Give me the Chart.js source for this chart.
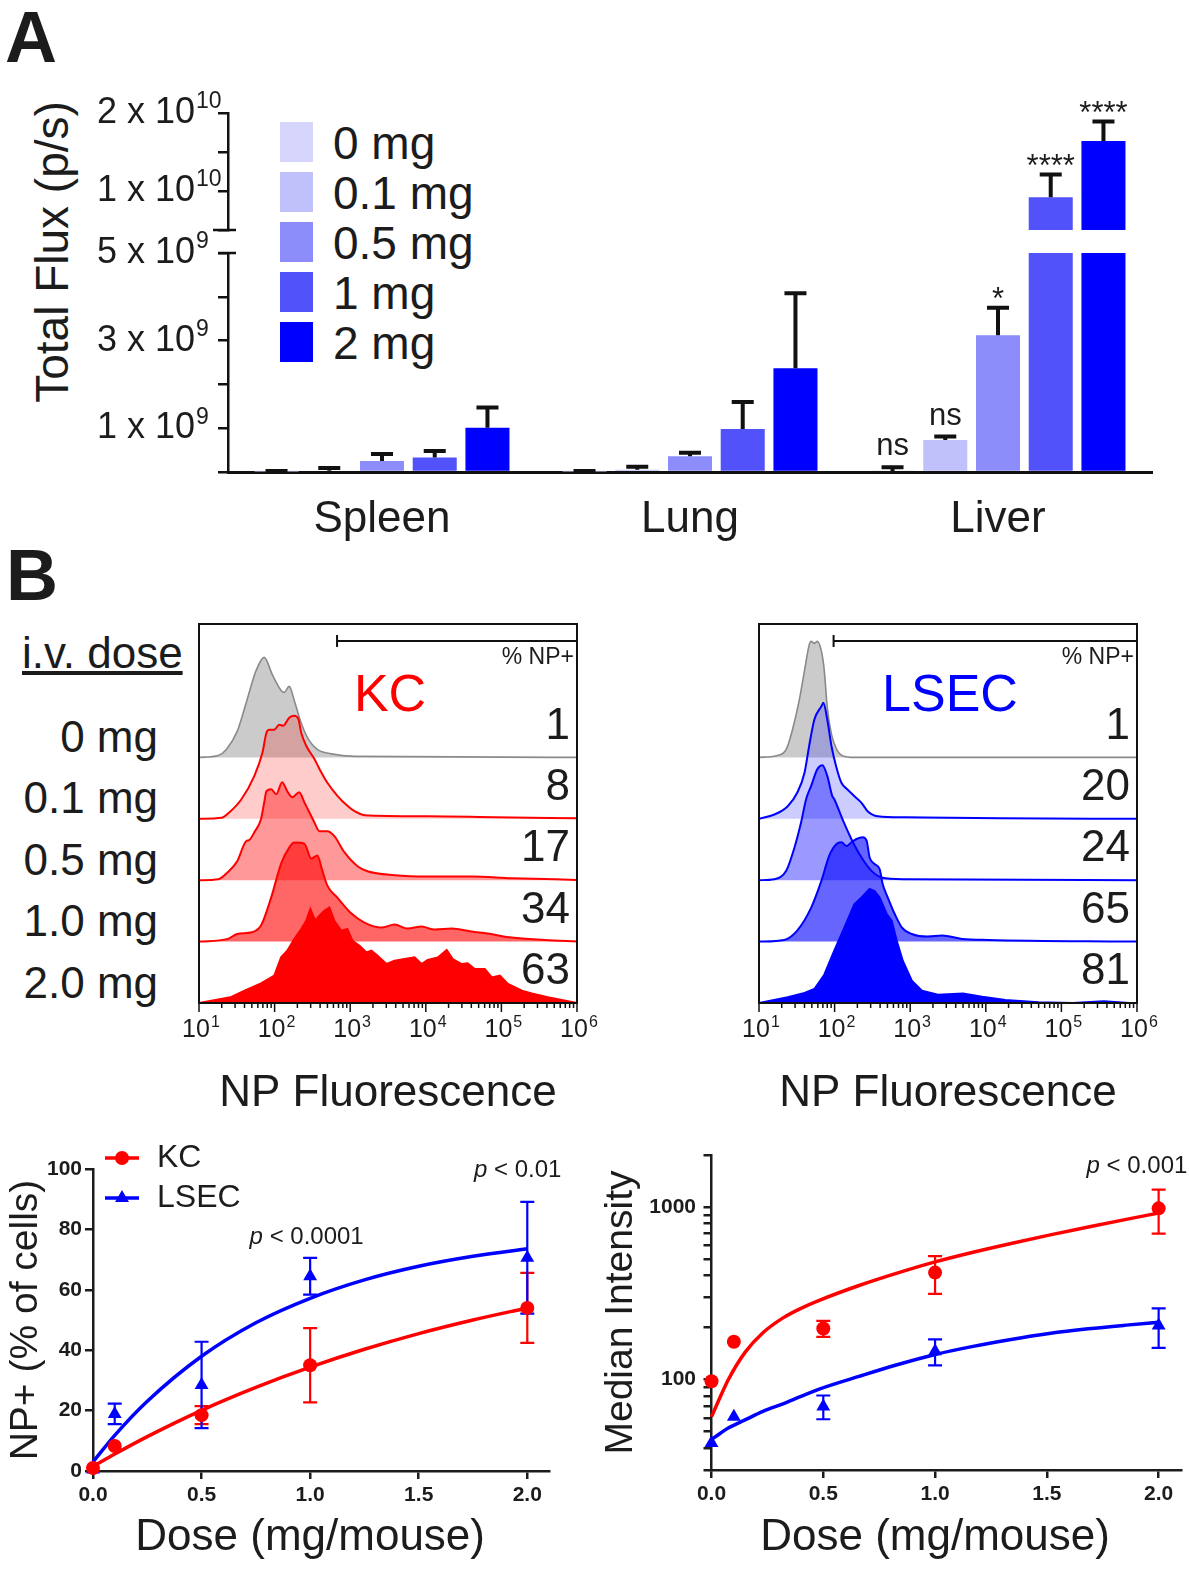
<!DOCTYPE html>
<html lang="en">
<head>
<meta charset="utf-8">
<title>NP biodistribution</title>
<script src="https://cdn.jsdelivr.net/npm/chart.js@4.4.1/dist/chart.umd.min.js"></script>
<style>
  body { margin: 0; background: #fff; }
  #fig { position: relative; width: 1189px; height: 1570px; overflow: hidden;
         font-family: 'Liberation Sans', Arial, sans-serif; color: #1c1c1c; }
  #fig canvas { position: absolute; }
  .t { position: absolute; white-space: nowrap; line-height: 1; }
</style>
</head>
<body>
<div id="fig">
  <div class="t" style="left:5px; top:1px; font-size:72px; font-weight:bold;">A</div>
  <div class="t" style="left:6px; top:539px; font-size:72px; font-weight:bold;">B</div>
  <div class="t" style="left:52px; top:252px; font-size:46px; transform:translate(-50%,-50%) rotate(-90deg);">Total Flux (p/s)</div>
  <div id="legendA"></div>
  <div class="t" style="left:22px; top:631px; font-size:44px; text-decoration:underline;">i.v. dose</div>
  <div id="doseLabels"></div>

  <canvas id="fluxTop" width="1189" height="160" style="left:0; top:80px;"></canvas>
  <canvas id="fluxLow" width="1189" height="328" style="left:0; top:222px;"></canvas>
  <canvas id="histKC" width="450" height="530" style="left:150px; top:600px;"></canvas>
  <canvas id="histLSEC" width="450" height="530" style="left:710px; top:600px;"></canvas>
  <canvas id="pctChart" width="590" height="440" style="left:0; top:1130px;"></canvas>
  <canvas id="mfiChart" width="599" height="440" style="left:590px; top:1130px;"></canvas>
</div>

<script>
// ---------- A: total flux per organ (p/s) ----------
const organs = ['Spleen', 'Lung', 'Liver'];
const doseNames = ['0 mg', '0.1 mg', '0.5 mg', '1 mg', '2 mg'];
const flux0  = [0.01e9, 0.01e9, 0.02e9];
const flux01 = [0.03e9, 0.05e9, 0.73e9];
const flux05 = [0.25e9, 0.36e9, 3.12e9];
const flux1  = [0.33e9, 0.98e9, 9.2e9];
const flux2  = [1.01e9, 2.37e9, 16.4e9];
const err0  = [0.01e9, 0.01e9, 0.09e9];
const err01 = [0.06e9, 0.07e9, 0.08e9];
const err05 = [0.16e9, 0.08e9, 0.63e9];
const err1  = [0.15e9, 0.62e9, 2.9e9];
const err2  = [0.46e9, 1.71e9, 2.5e9];
const liverStars = ['ns', 'ns', '*', '****', '****'];
const fluxLabelledLow = [1e9, 3e9, 5e9];
const fluxLabelledHigh = [1e10, 2e10];

// ---------- B: histograms (x = NP fluorescence, h = % of mode) ----------
const doseLabelsB = ['0 mg', '0.1 mg', '0.5 mg', '1.0 mg', '2.0 mg'];
const kcPctPos = [1, 8, 17, 34, 63];
const lsecPctPos = [1, 20, 24, 65, 81];
const kcGate = 670;
const lsecGate = 97;

const kcX0 = [10, 18, 23, 32, 43, 57, 73, 93, 122, 134, 156, 182, 219, 271, 367, 563, 1140, 1e6];
const kcH0 = [0, 2, 8, 26, 57, 87, 100, 83, 67, 65, 71, 57, 37, 20, 8, 3.5, 1, 0];
const kcX1 = [10, 20, 24, 36, 54, 69, 78, 85, 99, 115, 130, 156, 182, 206, 225, 262, 335, 391, 499, 677, 918, 1140, 1540, 10500, 81600, 1e6];
const kcH1 = [0, 1, 5, 19, 43, 66, 86, 89, 89, 94, 93, 101, 103, 100, 86, 73, 60, 50, 36, 23, 13, 7.6, 3.6, 2.6, 1.6, 0.5];
const kcX2 = [10, 18, 24, 32, 42, 46, 54, 66, 73, 78, 90, 105, 126, 147, 171, 212, 247, 288, 335, 391, 499, 617, 837, 1250, 1690, 3860, 10600, 40400, 137000, 1e6];
const kcH2 = [0, 1, 8, 19, 39, 40, 48, 61, 78, 89, 91, 86, 98, 89, 83, 88, 78, 68, 58, 49, 49, 44, 28, 14, 9, 5, 3.7, 3.7, 2, 0.3];
const kcX3 = [10, 24, 32, 50, 66, 90, 122, 156, 182, 247, 306, 367, 428, 499, 677, 1040, 1540, 2590, 3860, 5740, 8790, 13100, 22000, 40400, 66000, 137000, 376000, 1e6];
const kcH3 = [0, 2.7, 7.6, 9.3, 16, 44, 78, 94, 99, 98, 83, 86, 71, 56, 44, 28, 19, 14, 17, 13, 15, 12, 13, 10, 8, 4, 1.6, 0];
const kcX4 = [10, 26, 40, 66, 99, 122, 147, 182, 225, 262, 297, 345, 391, 455, 530, 617, 764, 918, 1070, 1330, 1640, 1910, 2300, 3020, 3860, 5230, 7100, 8790, 10600, 14400, 18900, 22700, 29800, 35800, 44400, 60300, 74600, 95300, 122000, 187000, 253000, 412000, 1e6];
const kcH4 = [0, 5.7, 12.3, 19.6, 27.3, 45.6, 52.3, 64, 74, 82.3, 94, 82.3, 87.3, 92.3, 95.6, 82.3, 72.3, 74, 62.3, 57.3, 50.6, 52.3, 47.3, 39, 42.3, 44, 45.6, 39, 43, 45.6, 53, 44, 39, 39.6, 34, 34, 25.6, 27.3, 19, 12.3, 9.6, 5.7, 0];

const lsecX0 = [10, 17, 23, 27.5, 34, 40, 46, 49, 54, 59, 67, 73, 80, 91, 106, 127, 183, 1e6];
const lsecH0 = [0, 1.7, 8.3, 26.7, 56.7, 86.7, 112, 116, 114, 116, 106, 87, 50, 23, 8.3, 1.7, 0, 0];
const lsecX1 = [10, 16, 24, 32, 40, 46, 54, 67, 71, 80, 91, 106, 123, 148, 183, 227, 273, 371, 850, 15500, 1e6];
const lsecH1 = [0, 4.3, 12.6, 26, 46, 72.6, 99.3, 112.6, 116, 99.3, 72.6, 51, 36, 29.3, 22.6, 16, 7.6, 2.6, 1.5, 0.5, 0];
const lsecX2 = [10, 16, 23, 29, 36, 42, 49, 59, 69, 80, 93, 99, 127, 167, 227, 308, 419, 850, 1e6];
const lsecH2 = [0, 1, 9.7, 31, 57.7, 81, 94.3, 111, 115, 104.3, 84.3, 81, 61, 41, 22.7, 9.3, 2.7, 1, 0];
const lsecX3 = [10, 21.5, 32, 49, 67, 85, 106, 123, 144, 167, 195, 235, 265, 290, 338, 394, 432, 504, 624, 773, 1050, 1710, 2630, 4850, 10800, 1e6];
const lsecH3 = [0, 1.7, 11, 34, 61, 86, 97.6, 99.3, 95.6, 99.3, 102.6, 104.3, 101, 84.3, 77.6, 72.6, 57.6, 44.3, 27.6, 14.3, 7.6, 5, 6, 2.7, 1.7, 0];
const lsecX4 = [10, 24, 40, 54, 73, 99, 135, 183, 227, 290, 338, 394, 489, 569, 663, 797, 1050, 1430, 2330, 5000, 8950, 18100, 49800, 141000, 364000, 783000, 1e6];
const lsecH4 = [0, 5.7, 10, 14, 28.3, 52.3, 75.6, 99, 105.6, 114, 112, 105.6, 89, 82.3, 62.3, 42.3, 22.3, 12.3, 8.3, 9.6, 6.3, 3, 0.7, 0, 1.7, 0, 0];

// ---------- dose response ----------
const doseX = [0, 0.1, 0.5, 1.0, 2.0];
const kcPct = [1, 8.3, 18.5, 35, 54];
const kcPctSd = [0, 0, 3, 12.3, 11.6];
const lsecPct = [0.5, 18.9, 28.5, 64.5, 70.6];
const lsecPctSd = [0, 3.4, 14.3, 6.1, 18.5];
const fitDose = [0, 0.1, 0.25, 0.5, 0.75, 1.0, 1.25, 1.5, 1.75, 2.0];
const kcPctFit = [1.5, 5.6, 11.4, 20.1, 27.7, 34.4, 40.3, 45.5, 50.0, 54.0];
const lsecPctFit = [3, 11.8, 23.1, 38, 49.1, 57.2, 63.3, 67.8, 71.1, 73.6];
const pctNotes = ['0.0001', '0.01'];
const pctNoteAt = [[0.984, 77.5], [1.956, 99.7]];

const kcMfi = [98, 166, 198, 417, 982];
const kcMfiSd = [0, 0, 21, 103, 280];
const lsecMfi = [43, 61, 70, 146, 206];
const lsecMfiSd = [0, 0, 11, 25, 53];
const mfiFitDose = [0, 0.04, 0.075, 0.15, 0.23, 0.32, 0.4, 0.485, 0.66, 0.83, 1.0, 1.17, 1.34, 1.51, 1.685, 1.855, 2.0];
const kcMfiFit = [61, 80, 100, 144, 187, 228, 259, 289, 351, 414, 481, 547, 615, 687, 766, 848, 923];
const lsecMfiFit = [45, 49, 52.5, 58.5, 65.5, 72.5, 80, 88.5, 104.5, 122, 140, 156, 171, 185, 197, 207, 215];
const mfiNotes = ['0.001'];
const mfiNoteAt = [[1.903, 1709]];

// ---------- styling ----------
const FONT = "'Liberation Sans', Arial, sans-serif";
const INK = '#1c1c1c';
const RED = 'rgb(255,0,0)';
const BLUE = 'rgb(0,0,255)';
const doseColors = ['#d6d6fc', '#c0c0fb', '#8c8cfb', '#5252fb', '#0000ff'];
const kcStroke = ['#8a8a8a', RED, RED, RED, RED];
const kcFill = ['rgba(140,140,140,0.45)', 'rgba(255,0,0,0.2)', 'rgba(255,0,0,0.4)', 'rgba(255,0,0,0.6)', RED];
const lsecStroke = ['#8a8a8a', BLUE, BLUE, BLUE, BLUE];
const lsecFill = ['rgba(140,140,140,0.45)', 'rgba(0,0,255,0.2)', 'rgba(0,0,255,0.4)', 'rgba(0,0,255,0.6)', BLUE];
const ROW_STEP = 61.4;

Chart.defaults.font.family = FONT;
Chart.defaults.color = INK;
Chart.defaults.animation = false;

// html bits: legend of panel A and dose labels of panel B
const legendA = document.getElementById('legendA');
doseNames.forEach((name, i) => {
  const top = 122 + i * 50;
  legendA.insertAdjacentHTML('beforeend',
    '<div style="position:absolute;left:280px;top:' + top + 'px;width:33px;height:40px;background:' + doseColors[i] + '"></div>' +
    '<div class="t" style="left:333px;top:' + (top - 2.5) + 'px;font-size:46px">' + name + '</div>');
});
const doseLabels = document.getElementById('doseLabels');
doseLabelsB.forEach((name, i) => {
  const centre = 1003 - (4 - i) * ROW_STEP - 21;
  doseLabels.insertAdjacentHTML('beforeend',
    '<div class="t" style="left:0;width:158px;text-align:right;top:' + (centre - 21.5) + 'px;font-size:44px">' + name + '</div>');
});

// ---------- plugins ----------
const barErrors = {
  id: 'barErrors',
  afterDatasetsDraw(chart) {
    const ctx = chart.ctx, y = chart.scales.y;
    ctx.save();
    chart.data.datasets.forEach((ds, i) => {
      chart.getDatasetMeta(i).data.forEach((bar, j) => {
        const v = ds.data[j], top = v + ds.errs[j];
        if (top <= y.min || top > y.max) return;
        const y0 = y.getPixelForValue(Math.max(v, y.min));
        const y1 = y.getPixelForValue(top);
        ctx.strokeStyle = '#111';
        ctx.lineWidth = 4;
        ctx.beginPath();
        ctx.moveTo(bar.x, y0); ctx.lineTo(bar.x, y1);
        ctx.moveTo(bar.x - 11, y1); ctx.lineTo(bar.x + 11, y1);
        ctx.stroke();
        const s = ds.stars[j];
        if (s) {
          ctx.fillStyle = INK;
          ctx.font = '31px ' + FONT;
          ctx.textAlign = 'center';
          ctx.textBaseline = 'alphabetic';
          ctx.fillText(s, bar.x, s === 'ns' ? y1 - 12 : y1 + 1);
        }
      });
    });
    ctx.restore();
  }
};

const fluxAxis = {
  id: 'fluxAxis',
  afterDraw(chart, args, o) {
    const ctx = chart.ctx, y = chart.scales.y, a = chart.chartArea;
    ctx.save();
    ctx.fillStyle = INK;
    ctx.textAlign = 'left';
    ctx.textBaseline = 'middle';
    y.ticks.forEach(t => {
      if (!o.labelled.some(v => Math.abs(v - t.value) < 1)) return;
      const exp = Math.floor(Math.log10(t.value) + 1e-9);
      const mant = Math.round(t.value / Math.pow(10, exp));
      const py = y.getPixelForValue(t.value);
      const base = mant + ' x 10';
      ctx.font = '36px ' + FONT;
      ctx.fillText(base, 97, py);
      const w = ctx.measureText(base).width;
      ctx.font = '23px ' + FONT;
      ctx.fillText(String(exp), 97 + w + 1, py - 11);
    });
    // broken axis mark
    const yb = o.breakAt === 'bottom' ? a.bottom : a.top;
    ctx.strokeStyle = '#111';
    ctx.lineWidth = 2.5;
    ctx.beginPath();
    ctx.moveTo(a.left - (o.breakAt === 'bottom' ? 15 : 10), yb);
    ctx.lineTo(a.left + 8, yb);
    ctx.stroke();
    ctx.restore();
  }
};

const ridgeDeco = {
  id: 'ridgeDeco',
  afterDraw(chart, args, o) {
    const ctx = chart.ctx, a = chart.chartArea, x = chart.scales.x, y = chart.scales.y;
    ctx.save();
    ctx.strokeStyle = '#111';
    ctx.fillStyle = INK;
    ctx.lineWidth = 1.5;
    x.ticks.forEach(t => {
      const px = x.getPixelForValue(t.value);
      const e = Math.log10(t.value);
      const major = Math.abs(e - Math.round(e)) < 1e-6;
      ctx.beginPath();
      ctx.moveTo(px, a.bottom);
      ctx.lineTo(px, a.bottom + (major ? 9 : 5));
      ctx.stroke();
      if (major) {
        ctx.font = '25px ' + FONT;
        ctx.textAlign = 'center';
        ctx.textBaseline = 'middle';
        ctx.fillText('10', px - 3, a.bottom + 27);
        const w = ctx.measureText('10').width;
        ctx.font = '16px ' + FONT;
        ctx.textAlign = 'left';
        ctx.fillText(String(Math.round(e)), px - 3 + w / 2 + 1, a.bottom + 20);
      }
    });
    ctx.lineWidth = 2;
    ctx.strokeRect(a.left, a.top, a.right - a.left, a.bottom - a.top);
    // gate bar
    const gy = a.top + 17, gx = x.getPixelForValue(o.gate);
    ctx.beginPath();
    ctx.moveTo(gx, gy); ctx.lineTo(a.right, gy);
    ctx.moveTo(gx, gy - 6); ctx.lineTo(gx, gy + 6);
    ctx.stroke();
    ctx.textBaseline = 'middle';
    ctx.textAlign = 'right';
    ctx.font = '23px ' + FONT;
    ctx.fillText('% NP+', a.right - 3, a.top + 34);
    ctx.fillStyle = o.cellColor;
    ctx.textAlign = 'center';
    ctx.font = '52px ' + FONT;
    ctx.fillText(o.cell, (a.left + a.right) / 2 + 2, a.top + 73);
    ctx.fillStyle = INK;
    ctx.textAlign = 'right';
    ctx.font = '44px ' + FONT;
    o.pct.forEach((p, i) => {
      const base = (o.pct.length - 1 - i) * ROW_STEP;
      ctx.fillText(String(p), a.right - 7, y.getPixelForValue(base) - 31);
    });
    ctx.restore();
  }
};

const sdBars = {
  id: 'sdBars',
  beforeDatasetsDraw(chart) {
    const ctx = chart.ctx, x = chart.scales.x, y = chart.scales.y;
    ctx.save();
    chart.data.datasets.forEach(ds => {
      if (!ds.sd) return;
      ctx.strokeStyle = ds.borderColor;
      ctx.lineWidth = 2.2;
      ds.data.forEach((p, j) => {
        const s = ds.sd[j];
        if (!s) return;
        const px = x.getPixelForValue(p.x);
        const yt = y.getPixelForValue(p.y + s), yb = y.getPixelForValue(p.y - s);
        ctx.beginPath();
        ctx.moveTo(px, yt); ctx.lineTo(px, yb);
        ctx.moveTo(px - 7, yt); ctx.lineTo(px + 7, yt);
        ctx.moveTo(px - 7, yb); ctx.lineTo(px + 7, yb);
        ctx.stroke();
      });
    });
    ctx.restore();
  }
};

function marker(ctx, style, x, y, r, color) {
  ctx.fillStyle = color;
  ctx.beginPath();
  if (style === 'triangle') {
    for (let k = 0; k < 3; k++) {
      const ang = -Math.PI / 2 + k * 2 * Math.PI / 3;
      const px = x + Math.cos(ang) * r, py = y + Math.sin(ang) * r;
      if (k === 0) ctx.moveTo(px, py); else ctx.lineTo(px, py);
    }
    ctx.closePath();
  } else {
    ctx.arc(x, y, r, 0, Math.PI * 2);
  }
  ctx.fill();
}

const doseDeco = {
  id: 'doseDeco',
  afterDraw(chart, args, o) {
    const ctx = chart.ctx, x = chart.scales.x, y = chart.scales.y;
    ctx.save();
    ctx.fillStyle = INK;
    ctx.textBaseline = 'middle';
    ctx.textAlign = 'center';
    ctx.font = '44px ' + FONT;
    ctx.fillText('Dose (mg/mouse)', x.getPixelForValue(1), o.titleY);
    o.notes.forEach((p, i) => {
      const px = x.getPixelForValue(o.at[i][0]), py = y.getPixelForValue(o.at[i][1]);
      const rest = ' < ' + p;
      ctx.font = 'italic 24px ' + FONT;
      const w1 = ctx.measureText('p').width;
      ctx.font = '24px ' + FONT;
      const w2 = ctx.measureText(rest).width;
      const sx = px - (w1 + w2) / 2;
      ctx.textAlign = 'left';
      ctx.font = 'italic 24px ' + FONT;
      ctx.fillText('p', sx, py);
      ctx.font = '24px ' + FONT;
      ctx.fillText(rest, sx + w1, py);
    });
    if (o.legend) {
      [0, 1].forEach(i => {
        const ds = chart.data.datasets[i];
        const yy = o.legend.y + i * 40;
        ctx.strokeStyle = ds.borderColor;
        ctx.lineWidth = 3.5;
        ctx.beginPath();
        ctx.moveTo(o.legend.x, yy); ctx.lineTo(o.legend.x + 34, yy);
        ctx.stroke();
        marker(ctx, ds.pointStyle, o.legend.x + 17, yy, ds.pointRadius, ds.backgroundColor);
        ctx.fillStyle = INK;
        ctx.font = '32px ' + FONT;
        ctx.textAlign = 'left';
        ctx.fillText(ds.label, o.legend.x + 52, yy);
      });
    }
    ctx.restore();
  }
};

function wholeSignificands(scale) {
  scale.ticks = scale.ticks.filter(t => {
    const m = t.value / Math.pow(10, Math.floor(Math.log10(t.value) + 1e-9));
    return Math.abs(m - Math.round(m)) < 1e-6;
  });
}

// ---------- panel A charts (broken y axis = two stacked charts) ----------
const fluxMeans = [flux0, flux01, flux05, flux1, flux2];
const fluxErrs = [err0, err01, err05, err1, err2];

function fluxChart(id, yMin, yMax, step, labelled, pad, xHeight, breakAt) {
  return new Chart(document.getElementById(id), {
    type: 'bar',
    data: {
      labels: organs,
      datasets: fluxMeans.map((d, i) => ({
        label: doseNames[i],
        data: d,
        errs: fluxErrs[i],
        stars: organs.map((o, j) => j === 2 ? liverStars[i] : null),
        backgroundColor: doseColors[i],
        categoryPercentage: 0.856,
        barPercentage: 0.835,
        clip: 0
      }))
    },
    options: {
      responsive: false,
      devicePixelRatio: 1,
      layout: { padding: pad },
      plugins: {
        legend: { display: false }, tooltip: { enabled: false },
        fluxAxis: { breakAt: breakAt, labelled: labelled }
      },
      scales: {
        x: {
          display: xHeight > 0,
          afterFit: s => { s.height = xHeight; },
          grid: { display: false },
          border: { color: '#111', width: 3 },
          ticks: { font: { size: 44 }, color: INK, padding: 13 }
        },
        y: {
          min: yMin, max: yMax,
          afterFit: s => { s.width = 228; },
          ticks: { display: false, stepSize: step },
          grid: { drawOnChartArea: false, tickLength: 10, color: '#111', lineWidth: 2.5 },
          border: { color: '#111', width: 2.5 }
        }
      }
    },
    plugins: [barErrors, fluxAxis]
  });
}

fluxChart('fluxTop', 5e9, 2e10, 5e9, fluxLabelledHigh, { top: 33, right: 37, left: 0, bottom: 10 }, 0, 'bottom');
fluxChart('fluxLow', 0, 5e9, 1e9, fluxLabelledLow, { top: 31, right: 37, left: 0, bottom: 0 }, 78, 'top');

// ---------- panel B histograms ----------
function ridgeChart(id, xs, hs, strokes, fills, pct, gate, cell, cellColor) {
  const n = xs.length;
  const datasets = xs.map((xv, i) => {
    const base = (n - 1 - i) * ROW_STEP;
    return {
      data: xv.map((x, j) => ({ x: x, y: base + hs[i][j] })),
      borderColor: strokes[i],
      backgroundColor: fills[i],
      borderWidth: i === 0 ? 1.6 : 2,
      pointRadius: 0,
      cubicInterpolationMode: i === n - 1 ? 'default' : 'monotone',
      fill: { value: base },
      order: n - 1 - i
    };
  });
  return new Chart(document.getElementById(id), {
    type: 'line',
    data: { datasets: datasets },
    options: {
      responsive: false,
      devicePixelRatio: 1,
      layout: { padding: { left: 49, right: 23, top: 24, bottom: 0 } },
      plugins: {
        legend: { display: false }, tooltip: { enabled: false },
        ridgeDeco: { pct: pct, gate: gate, cell: cell, cellColor: cellColor }
      },
      scales: {
        x: {
          type: 'logarithmic', min: 10, max: 1e6,
          afterBuildTicks: wholeSignificands,
          afterFit: s => { s.height = 127; },
          ticks: { display: false, autoSkip: false },
          grid: { display: false },
          border: { display: false },
          title: { display: true, text: 'NP Fluorescence', font: { size: 44 }, color: INK, padding: { bottom: 10 } }
        },
        y: { display: false, min: 0, max: 379 }
      }
    },
    plugins: [ridgeDeco]
  });
}

ridgeChart('histKC', [kcX0, kcX1, kcX2, kcX3, kcX4], [kcH0, kcH1, kcH2, kcH3, kcH4],
  kcStroke, kcFill, kcPctPos, kcGate, 'KC', RED);
ridgeChart('histLSEC', [lsecX0, lsecX1, lsecX2, lsecX3, lsecX4], [lsecH0, lsecH1, lsecH2, lsecH3, lsecH4],
  lsecStroke, lsecFill, lsecPctPos, lsecGate, 'LSEC', BLUE);

// ---------- dose response charts ----------
const pts = (xs, ys) => xs.map((x, i) => ({ x: x, y: ys[i] }));
const tickFont = { size: 21, weight: 'bold' };
const axisGrid = { drawOnChartArea: false, tickLength: 8, color: '#1c1c1c', lineWidth: 2.5 };
const axisBorder = { color: '#1c1c1c', width: 2.5 };

function doseChart(id, cfg) {
  return new Chart(document.getElementById(id), {
    type: 'scatter',
    data: {
      datasets: [
        { label: 'KC', data: pts(doseX, cfg.kc), sd: cfg.kcSd, pointStyle: 'circle', pointRadius: 7,
          backgroundColor: RED, borderColor: RED, borderWidth: 0, clip: false, order: 0 },
        { label: 'LSEC', data: pts(doseX, cfg.lsec), sd: cfg.lsecSd, pointStyle: 'triangle', pointRadius: 8,
          backgroundColor: BLUE, borderColor: BLUE, borderWidth: 0, clip: false, order: 1 },
        { label: 'KC fit', data: pts(cfg.fitX, cfg.kcFit), showLine: true, pointRadius: 0, borderColor: RED,
          borderWidth: 3.5, cubicInterpolationMode: 'monotone', clip: false, order: 2 },
        { label: 'LSEC fit', data: pts(cfg.fitX, cfg.lsecFit), showLine: true, pointRadius: 0, borderColor: BLUE,
          borderWidth: 3.5, cubicInterpolationMode: 'monotone', clip: false, order: 3 }
      ]
    },
    options: {
      responsive: false,
      devicePixelRatio: 1,
      layout: { padding: cfg.pad },
      plugins: {
        legend: { display: false }, tooltip: { enabled: false },
        doseDeco: { titleY: 408, notes: cfg.notes, at: cfg.noteAt, legend: cfg.legend }
      },
      scales: {
        x: {
          type: 'linear', min: 0, max: 2.1,
          afterFit: s => { s.height = cfg.xHeight; },
          ticks: { stepSize: 0.5, includeBounds: false, callback: v => v.toFixed(1), font: tickFont, color: INK, padding: 4 },
          grid: axisGrid, border: axisBorder
        },
        y: Object.assign({
          afterFit: s => { s.width = cfg.yWidth; },
          grid: axisGrid, border: axisBorder,
          title: { display: true, text: cfg.yTitle, font: { size: 39 }, color: INK, padding: { top: cfg.titlePad } }
        }, cfg.y)
      }
    },
    plugins: [sdBars, doseDeco]
  });
}

doseChart('pctChart', {
  kc: kcPct, kcSd: kcPctSd, lsec: lsecPct, lsecSd: lsecPctSd,
  fitX: fitDose, kcFit: kcPctFit, lsecFit: lsecPctFit,
  notes: pctNotes, noteAt: pctNoteAt, legend: { x: 105, y: 28 },
  pad: { top: 39, right: 41, left: 0, bottom: 0 }, xHeight: 99, yWidth: 93,
  yTitle: 'NP+ (% of cells)', titlePad: 3,
  y: { type: 'linear', min: 0, max: 100,
       ticks: { stepSize: 20, font: tickFont, color: INK, padding: 3 } }
});

doseChart('mfiChart', {
  kc: kcMfi, kcSd: kcMfiSd, lsec: lsecMfi, lsecSd: lsecMfiSd,
  fitX: mfiFitDose, kcFit: kcMfiFit, lsecFit: lsecMfiFit,
  notes: mfiNotes, noteAt: mfiNoteAt, legend: null,
  pad: { top: 25, right: 6, left: 0, bottom: 0 }, xHeight: 100, yWidth: 121.5,
  yTitle: 'Median Intensity', titlePad: 8,
  y: { type: 'logarithmic', min: 30, max: 2000,
       afterBuildTicks: wholeSignificands,
       ticks: { autoSkip: false, font: tickFont, color: INK, padding: 7.5,
                callback: v => (v === 100 || v === 1000) ? String(v) : '' } }
});
</script>
</body>
</html>
